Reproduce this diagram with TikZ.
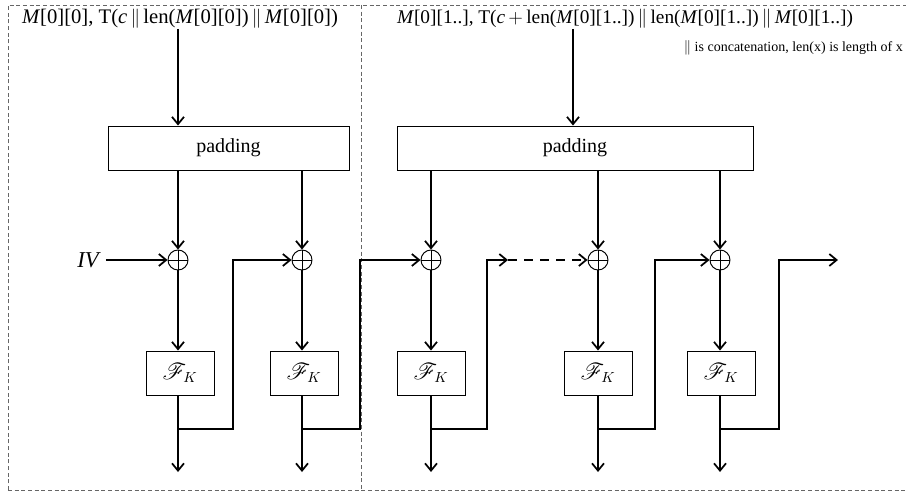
\documentclass[tikz,border=0pt]{standalone}
\usepackage{fontspec}
\usepackage{mathrsfs}
\setmainfont{Liberation Serif}
\usetikzlibrary{arrows.meta,calc}

\newcommand{\cat}{$\,\|\,$}

\begin{document}
\begin{tikzpicture}[x=0.75pt,y=-0.75pt,
  line/.style={line width=1.3pt,line cap=butt},
  arr/.style={line,-{Straight Barb[length=5.5pt,width=9pt,line width=1.3pt]}},
  frame/.style={draw=black!60,line width=0.6pt,dash pattern=on 3pt off 2pt},
  padbox/.style={draw,line width=0.7pt,minimum height=33pt,inner sep=0pt,font=\fontsize{15}{17}\selectfont},
  fbox/.style={draw,line width=0.7pt,minimum width=51pt,minimum height=33pt,inner sep=0pt,font=\fontsize{16}{18}\selectfont},
  xorop/.style={draw,circle,line width=0.7pt,minimum size=15pt,inner sep=0pt,
    path picture={\draw[line width=0.6pt] (path picture bounding box.north) -- (path picture bounding box.south)
      (path picture bounding box.west) -- (path picture bounding box.east);}},
  ttl/.style={inner sep=0pt}]

\useasboundingbox (0,0) rectangle (906,492);

% dashed frames around the first and the following blocks
\draw[frame] (8,490) -- (8,5) -- (906,5);
\draw[frame] (8,490) -- (906,490);
\draw[frame] (361,5) -- (361,490);

% inputs
\node[ttl,font=\fontsize{15.5}{18}\selectfont] (t1) at (180,19) {\textit{M}[0][0], T(\textit{c}\cat len(\textit{M}[0][0])\cat\textit{M}[0][0])};
\node[ttl,font=\fontsize{14.5}{17}\selectfont] (t2) at (625,19) {\textit{M}[0][1..], T(\textit{c}$\,+\,$len(\textit{M}[0][1..])\cat len(\textit{M}[0][1..])\cat\textit{M}[0][1..])};
\node[font=\fontsize{10.5}{12}\selectfont,anchor=east,inner sep=0pt] (note) at (903,48) {$\|$ is concatenation, len(x) is length of x};

% padding
\node[padbox,minimum width=180.75pt] (p1) at (228.5,148) {padding};
\node[padbox,minimum width=267pt] (p2) at (575,148) {padding};

% xor operators
\foreach \n/\x in {1/178,2/302,3/431,4/598,5/720}
  \node[xorop] (x\n) at (\x,260) {};

% block functions
\foreach \n/\x in {1/180,2/304,3/431,4/598,5/721}
  \node[fbox] (f\n) at (\x,373) {$\mathscr{F}_K$};

\node[font=\fontsize{17}{19}\selectfont\itshape,inner sep=0pt] (iv) at (88,260) {IV};

% feedback coordinates
\foreach \n/\x in {1/178,2/302,3/431,4/598,5/720} {
  \coordinate (j\n) at (\x,429);
  \coordinate (b\n) at (\x,472);
}
\foreach \n/\x in {1/233,2/360,3/487,4/655,5/779}
  \coordinate (u\n) at (\x,260);
\coordinate (m3) at (508,260);
\coordinate (out) at (838,260);

% input arrows
\draw[arr] (t1.south -| 178,0) -- (p1.north -| 178,0);
\draw[arr] (t2.south -| 573,0) -- (p2.north -| 573,0);
\draw[arr] (p1.south -| x1) -- (x1);
\draw[arr] (p1.south -| x2) -- (x2);
\draw[arr] (p2.south -| x3) -- (x3);
\draw[arr] (p2.south -| x4) -- (x4);
\draw[arr] (p2.south -| x5) -- (x5);
\draw[arr] (iv.east) ++(7,0) coordinate (ivs) (ivs) -- (x1);

% through the block functions
\foreach \n in {1,...,5} {
  \draw[arr] (x\n) -- (f\n.north -| x\n);
  \draw[arr] (f\n.south -| x\n) -- (b\n);
}

% chaining
\draw[arr] (j1) -| (u1) -- (x2);
\draw[arr] (j2) -| (u2) -- (x3);
\draw[arr] (j3) -| (u3) -- (m3);
\draw[arr,dash pattern=on 7pt off 5pt] (m3) -- (x4);
\draw[arr] (j4) -| (u4) -- (x5);
\draw[arr] (j5) -| (u5) -- (out);

\end{tikzpicture}
\end{document}
